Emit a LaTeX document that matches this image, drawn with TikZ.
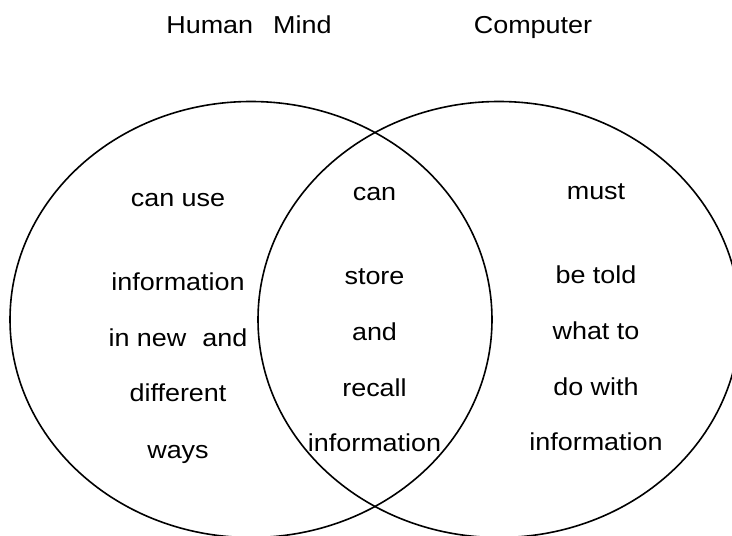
\documentclass[tikz,border=0pt]{standalone}
\usepackage{fontspec}
\setmainfont[FakeStretch=1.1]{Liberation Sans}
\begin{document}
\begin{tikzpicture}[x=1pt,y=-1pt,
  lbl/.style={anchor=base,inner sep=0pt,font=\fontsize{24.5}{28}\selectfont},
  ring/.style={line width=1.6pt}]
\useasboundingbox (0,0) rectangle (732,536);
\draw[ring] (251,319.5) ellipse [x radius=241pt, y radius=218pt];
\draw[ring] (499,319.5) ellipse [x radius=241pt, y radius=218pt];
% titles
\node[lbl] (t1) at (249,33) {Human\hspace{20pt}Mind};
\node[lbl] (t2) at (533,33) {Computer};
% left column
\node[lbl] (l1) at (178,206.5) {can use};
\node[lbl] (l2) at (178,290.5) {information};
\node[lbl] (l3) at (178,346) {in new\hspace{16pt}and};
\node[lbl] (l4) at (178,401.5) {different};
\node[lbl] (l5) at (178,458) {ways};
% center column
\node[lbl] (c1) at (374.5,200) {can};
\node[lbl] (c2) at (374.5,284) {store};
\node[lbl] (c3) at (374.5,340) {and};
\node[lbl] (c4) at (374.5,396.5) {recall};
\node[lbl] (c5) at (374.5,451.5) {information};
% right column
\node[lbl] (r1) at (596,199) {must};
\node[lbl] (r2) at (596,283) {be told};
\node[lbl] (r3) at (596,339) {what to};
\node[lbl] (r4) at (596,395) {do with};
\node[lbl] (r5) at (596,450.5) {information};
\end{tikzpicture}
\end{document}
